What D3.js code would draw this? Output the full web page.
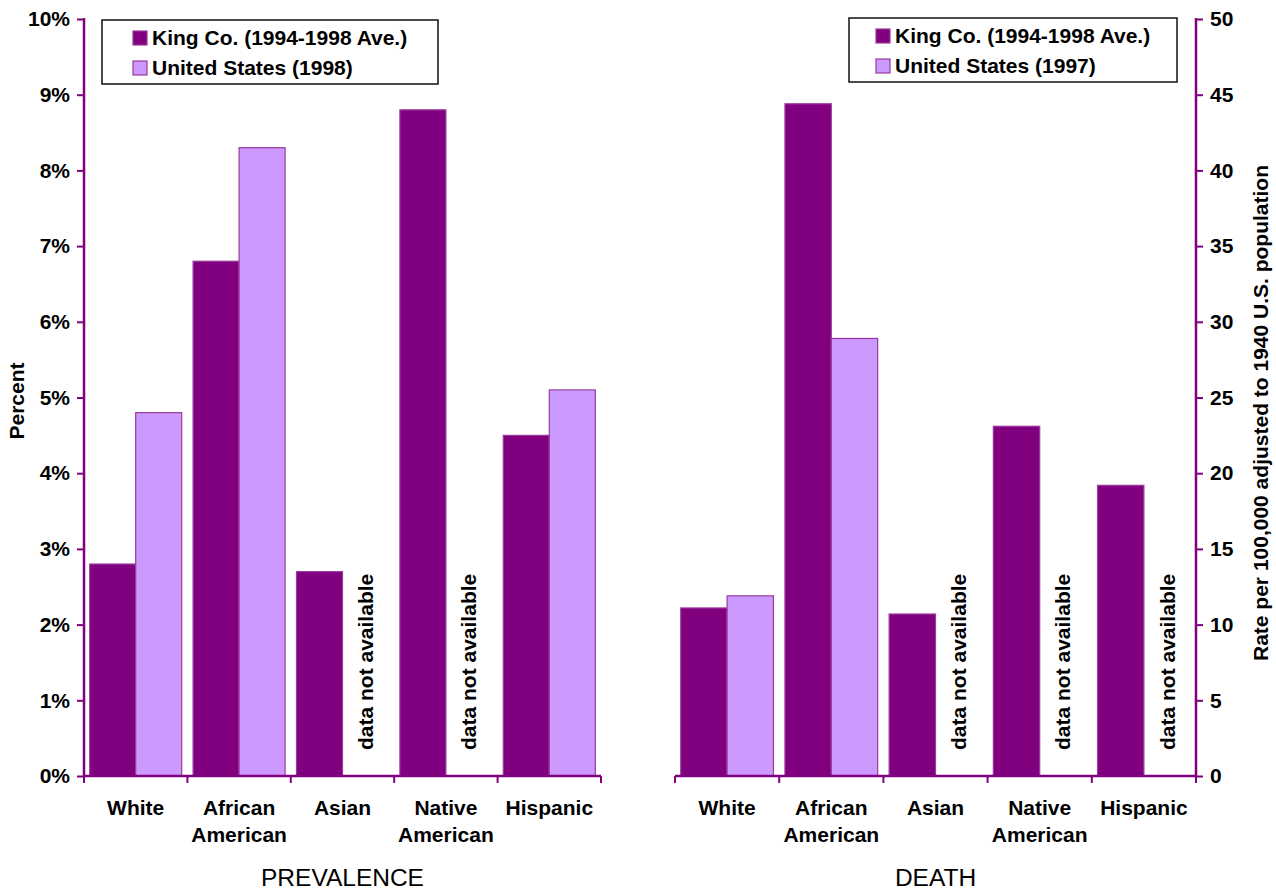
<!DOCTYPE html>
<html>
<head>
<meta charset="utf-8">
<script src="https://cdn.jsdelivr.net/npm/d3@7"></script>
<style>
  html, body { margin: 0; padding: 0; background: #fff; }
  svg { display: block; font-family: "Liberation Sans", Arial, sans-serif; }
</style>
</head>
<body>
<svg id="chart" width="1276" height="892"></svg>
<script>
// Ethnic groups shown on both panels
const categories = ["White", "African American", "Asian", "Native American", "Hispanic"];
const categoryLines = [["White"], ["African", "American"], ["Asian"], ["Native", "American"], ["Hispanic"]];

// Prevalence (percent)
const prevalenceKing = [2.8, 6.8, 2.7, 8.8, 4.5];
const prevalenceUS = [4.8, 8.3, null, null, 5.1];

// Death rate per 100,000 (age-adjusted to 1940 U.S. population)
const deathKing = [11.1, 44.4, 10.7, 23.1, 19.2];
const deathUS = [11.9, 28.9, null, null, null];

const prevalenceTicks = [0, 1, 2, 3, 4, 5, 6, 7, 8, 9, 10];
const deathTicks = [0, 5, 10, 15, 20, 25, 30, 35, 40, 45, 50];

const seriesNames = ["King", "US"];
const prevalenceLegend = ["King Co. (1994-1998 Ave.)", "United States (1998)"];
const deathLegend = ["King Co. (1994-1998 Ave.)", "United States (1997)"];

const PURPLE = "#800080";
const LILAC = "#CC99FF";
const BAR_EDGE = "#9a3a9a";
const FONT = 21;

const svg = d3.select("#chart");

const yTop = 19, yBottom = 776;

function panel(opts) {
  const g = svg.append("g");
  const x = d3.scaleBand().domain(categories).range(opts.xRange).padding(0);
  const xs = d3.scaleBand().domain(seriesNames).range([0, x.bandwidth()])
    .paddingInner(0).paddingOuter(0.124);
  const y = d3.scaleLinear().domain(opts.yDomain).range([yBottom, yTop]);

  const rows = categories.map((c, i) => ({ cat: c, King: opts.king[i], US: opts.us[i] }));

  // Bars, or a vertical note where a value is missing
  rows.forEach(r => {
    seriesNames.forEach(s => {
      const v = r[s];
      if (v == null) {
        g.append("text")
          .attr("transform", `translate(${x(r.cat) + xs(s) + xs.bandwidth() / 2},750) rotate(-90)`)
          .attr("dy", "0.36em")
          .attr("text-anchor", "start")
          .attr("font-size", FONT + "px")
          .attr("font-weight", "bold")
          .attr("fill", "#000")
          .text("data not available");
        return;
      }
      g.append("rect")
        .attr("x", x(r.cat) + xs(s))
        .attr("y", y(v))
        .attr("width", xs.bandwidth())
        .attr("height", y(0) - y(v))
        .attr("fill", s === "King" ? PURPLE : LILAC)
        .attr("stroke", BAR_EDGE)
        .attr("stroke-width", 1.2);
    });
  });

  // Category axis with ticks between groups
  const xr = opts.xRange;
  g.append("line").attr("x1", xr[0]).attr("x2", xr[1]).attr("y1", yBottom).attr("y2", yBottom)
    .attr("stroke", PURPLE).attr("stroke-width", 2.5);
  const bounds = categories.map(c => x(c)).concat([xr[1]]);
  g.selectAll(".xtick").data(bounds).enter().append("line")
    .attr("x1", d => d).attr("x2", d => d).attr("y1", yBottom).attr("y2", yBottom + 7)
    .attr("stroke", PURPLE).attr("stroke-width", 2);

  categories.forEach((c, i) => {
    const t = g.append("text")
      .attr("x", x(c) + x.bandwidth() / 2)
      .attr("y", 815)
      .attr("text-anchor", "middle")
      .attr("font-size", FONT + "px")
      .attr("font-weight", "bold");
    categoryLines[i].forEach((line, j) => {
      t.append("tspan").attr("x", x(c) + x.bandwidth() / 2).attr("dy", j === 0 ? 0 : 27).text(line);
    });
  });

  // Value axis
  const ax = opts.axisX;
  const axis = (opts.side === "left" ? d3.axisLeft(y) : d3.axisRight(y))
    .tickValues(opts.ticks).tickFormat(opts.fmt).tickSize(7).tickPadding(7);
  const ag = g.append("g").attr("transform", `translate(${ax},0)`).call(axis);
  ag.select(".domain").attr("stroke", PURPLE).attr("stroke-width", 2.5)
    .attr("d", `M0,${yTop - 1}V${yBottom + 1}`);
  ag.selectAll(".tick line").attr("stroke", PURPLE).attr("stroke-width", 2);
  ag.selectAll(".tick text").attr("font-size", FONT + "px").attr("font-weight", "bold")
    .attr("fill", "#000").attr("font-family", "'Liberation Sans', Arial, sans-serif");

  // Axis title
  if (opts.yTitle) {
    g.append("text")
      .attr("transform", `translate(${opts.yTitle.x},${opts.yTitle.y}) rotate(-90)`)
      .attr("text-anchor", "middle")
      .attr("font-size", FONT + "px")
      .attr("font-weight", "bold")
      .text(opts.yTitle.text);
  }

  // Panel caption
  g.append("text")
    .attr("x", (xr[0] + xr[1]) / 2)
    .attr("y", 886)
    .attr("text-anchor", "middle")
    .attr("font-size", "24.5px")
    .text(opts.caption);

  // Legend
  const L = opts.legend;
  const lg = g.append("g");
  lg.append("rect").attr("x", L.x).attr("y", L.y).attr("width", L.w).attr("height", L.h)
    .attr("fill", "#fff").attr("stroke", "#111").attr("stroke-width", 1.5);
  L.labels.forEach((lab, i) => {
    lg.append("rect")
      .attr("x", L.sx).attr("y", L.y + 11 + i * 30)
      .attr("width", 14).attr("height", 14)
      .attr("fill", i === 0 ? PURPLE : LILAC)
      .attr("stroke", BAR_EDGE).attr("stroke-width", 1.2);
    lg.append("text")
      .attr("x", L.sx + 19).attr("y", L.y + 25 + i * 30)
      .attr("font-size", FONT + "px").attr("font-weight", "bold")
      .text(lab);
  });
}

panel({
  xRange: [84, 601],
  yDomain: [0, 10],
  king: prevalenceKing,
  us: prevalenceUS,
  ticks: prevalenceTicks,
  fmt: d => d + "%",
  side: "left",
  axisX: 84,
  yTitle: { x: 24, y: 401, text: "Percent" },
  caption: "PREVALENCE",
  legend: { x: 102, y: 20, w: 336, h: 64, sx: 133, labels: prevalenceLegend }
});

panel({
  xRange: [675, 1196],
  yDomain: [0, 50],
  king: deathKing,
  us: deathUS,
  ticks: deathTicks,
  fmt: d => d,
  side: "right",
  axisX: 1196,
  yTitle: { x: 1268, y: 413, text: "Rate per 100,000 adjusted to 1940 U.S. population" },
  caption: "DEATH",
  legend: { x: 849, y: 18, w: 328, h: 64, sx: 876, labels: deathLegend }
});
</script>
</body>
</html>
